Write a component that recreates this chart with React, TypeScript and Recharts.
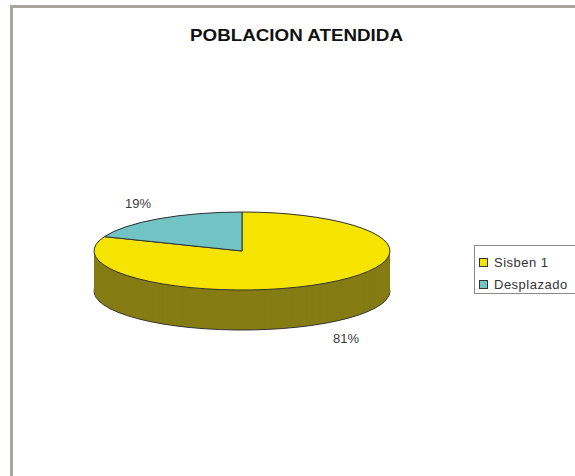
import React from "react";
import { PieChart, Pie, Cell, Legend } from "recharts";

const categories = ["Sisben 1", "Desplazado"];
const values = [81, 19];
const topColors = ["#f5e400", "#72c4c4"];
const sideColors = ["#857c14", "#3f8080"];

const data = categories.map((name, i) => ({ name, value: values[i] }));

const CX = 242;
const CY = 251;
const R = 148;
const SQUASH = 39 / 148;
const DEPTH = 40;
const depthSteps = Array.from({ length: DEPTH + 1 }, (_, i) => DEPTH - i);

const css = `
.pie-top, ${depthSteps.map((k) => `.pie-side-${k}`).join(", ")} {
  transform-box: view-box;
  transform-origin: ${CX}px ${CY}px;
}
.pie-top { transform: scale(1, ${SQUASH}); }
.pie-top path, .pie-side-${DEPTH} path { vector-effect: non-scaling-stroke; }
${depthSteps.map((k) => `.pie-side-${k} { transform: translate(0px, ${k}px) scale(1, ${SQUASH}); }`).join("\n")}
.pie-top .pie-top, ${depthSteps.map((k) => `.pie-side-${k} .pie-side-${k}`).join(", ")} { transform: none; }
`;

const RAD = Math.PI / 180;
const renderLabel = (props: any) => {
  const { cx, cy, midAngle, percent } = props;
  const s = Math.sin(midAngle * RAD);
  const c = Math.cos(midAngle * RAD);
  const x = cx + 185 * c;
  const y = cy - 57 * s + (s < 0 ? DEPTH : 0);
  return (
    <text
      x={x}
      y={y}
      textAnchor="middle"
      dominantBaseline="central"
      fontSize={13}
      fill="#3a3a3a"
      fontFamily="'Liberation Sans', Arial, sans-serif"
    >
      {`${Math.round(percent * 100)}%`}
    </text>
  );
};

const renderLegend = () => (
  <div
    style={{
      border: "1px solid #8a8a8a",
      width: 110,
      height: 49,
      boxSizing: "border-box",
      fontFamily: "'Liberation Sans', Arial, sans-serif",
      fontSize: 13,
      color: "#333",
      paddingTop: 5,
    }}
  >
    {categories.map((name, i) => (
      <div
        key={name}
        style={{ display: "flex", alignItems: "center", height: 22, paddingLeft: 4 }}
      >
        <span
          style={{
            display: "inline-block",
            width: 7,
            height: 7,
            background: topColors[i],
            border: "1px solid #333",
            marginRight: 6,
          }}
        />
        <span style={{ letterSpacing: 0.5 }}>{name}</span>
      </div>
    ))}
  </div>
);

export default function App() {
  return (
    <div
      style={{
        position: "absolute",
        left: 0,
        top: 0,
        width: 575,
        height: 476,
        overflow: "hidden",
        background: "#fff",
      }}
    >
      <style>{css}</style>
      <div
        style={{
          position: "absolute",
          left: 10,
          top: 5,
          width: 620,
          height: 520,
          borderLeft: "3px solid #a8a4a0",
          borderTop: "3px solid #a8a4a0",
        }}
      />
      <div style={{ position: "absolute", left: 0, top: 0 }}>
        <PieChart width={575} height={476} margin={{ top: 0, right: 0, bottom: 0, left: 0 }}>
          {depthSteps.map((k) => (
            <Pie
              key={`side-${k}`}
              className={`pie-side-${k}`}
              data={data}
              dataKey="value"
              nameKey="name"
              cx={CX}
              cy={CY}
              outerRadius={R}
              startAngle={90}
              endAngle={-270}
              isAnimationActive={false}
              stroke={k === DEPTH ? "#333" : "none"}
              strokeWidth={1}
              legendType="none"
            >
              {data.map((d, i) => (
                <Cell key={d.name} fill={sideColors[i]} />
              ))}
            </Pie>
          ))}
          <Pie
            key="top"
            className="pie-top"
            data={data}
            dataKey="value"
            nameKey="name"
            cx={CX}
            cy={CY}
            outerRadius={R}
            startAngle={90}
            endAngle={-270}
            isAnimationActive={false}
            stroke="#333"
            strokeWidth={1}
          >
            {data.map((d, i) => (
              <Cell key={d.name} fill={topColors[i]} />
            ))}
          </Pie>
          <Pie
            key="labels"
            data={data}
            dataKey="value"
            nameKey="name"
            cx={CX}
            cy={CY}
            outerRadius={R}
            startAngle={90}
            endAngle={-270}
            isAnimationActive={false}
            fill="none"
            stroke="none"
            label={renderLabel}
            labelLine={false}
            legendType="none"
          />
          <Legend
            content={renderLegend}
            wrapperStyle={{ position: "absolute", left: 474, top: 245, width: 110, height: 49 }}
          />
        </PieChart>
      </div>
      <svg
        width={575}
        height={476}
        style={{ position: "absolute", left: 0, top: 0, pointerEvents: "none" }}
      >
        <text
          x={190}
          y={40.5}
          fontSize={17}
          fontWeight="bold"
          fontFamily="'Liberation Sans', Arial, sans-serif"
          textLength={213}
          lengthAdjust="spacingAndGlyphs"
          fill="#111"
        >
          POBLACION ATENDIDA
        </text>
      </svg>
    </div>
  );
}
